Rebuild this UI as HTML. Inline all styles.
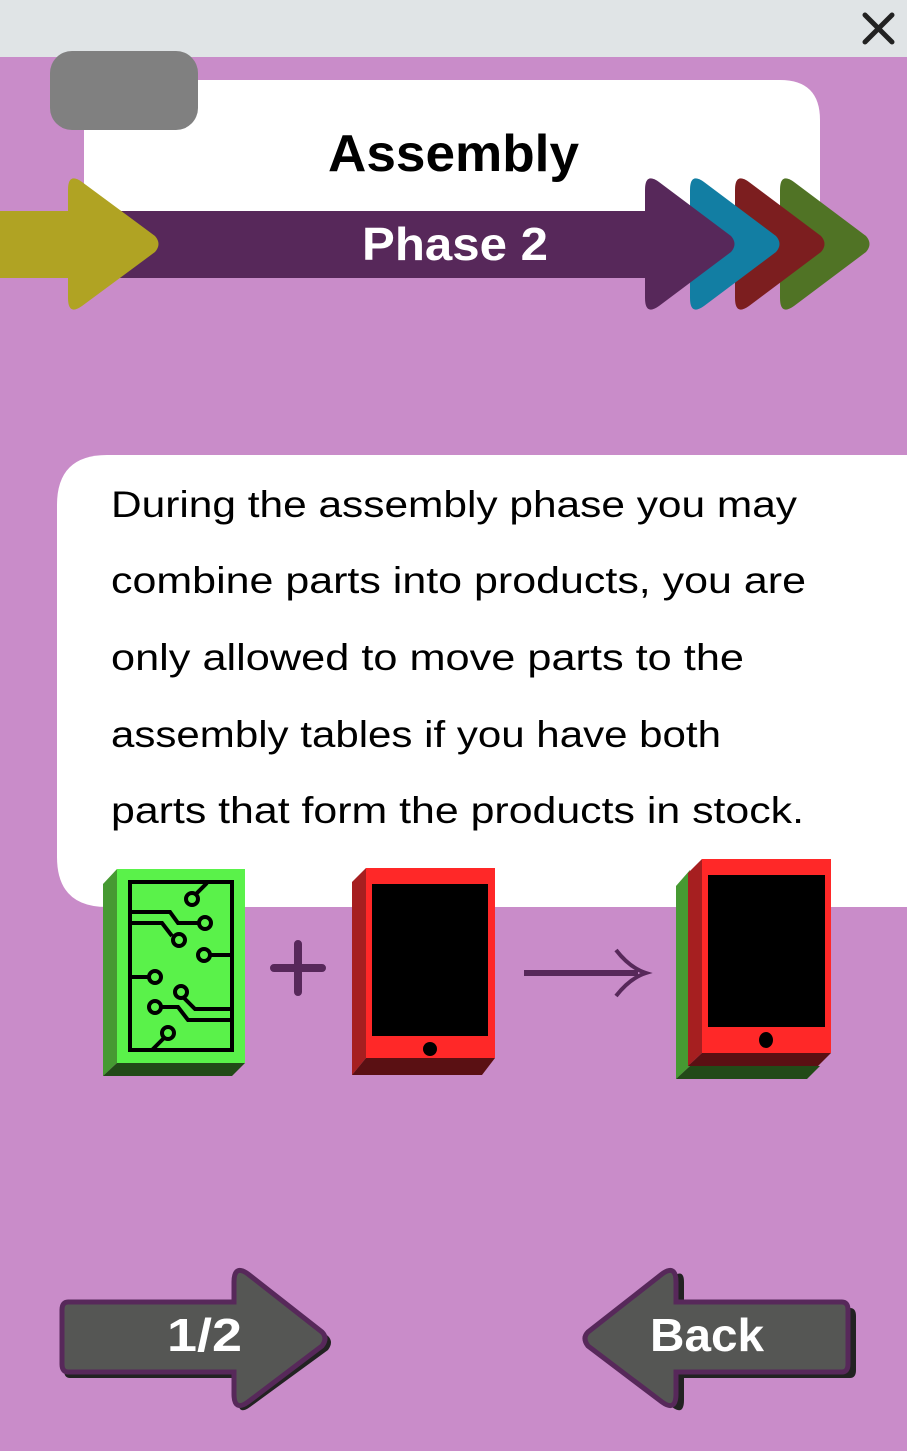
<!DOCTYPE html>
<html><head><meta charset="utf-8"><style>
html,body{margin:0;padding:0;width:907px;height:1451px;overflow:hidden;background:#c98cc9}
svg{display:block}
text{font-family:"Liberation Sans",sans-serif}
</style></head><body>
<svg width="907" height="1451" viewBox="0 0 907 1451" xmlns="http://www.w3.org/2000/svg">
<rect width="907" height="1451" fill="#c98cc9"/>
<rect width="907" height="57" fill="#e0e4e6"/>
<path d="M865 15 L892 42 M892 15 L865 42" stroke="#222" stroke-width="5" stroke-linecap="round"/>
<path d="M84 80 H780 Q820 80 820 120 V211 H84 Z" fill="#fff"/>
<rect x="50" y="51" width="148" height="79" rx="22" fill="#808080"/>
<text x="328" y="171" textLength="251" lengthAdjust="spacingAndGlyphs" font-size="52" font-weight="bold" fill="#000">Assembly</text>
<rect x="120" y="211" width="540" height="67" fill="#57285a"/>
<rect x="0" y="211" width="80" height="67" fill="#b0a323"/>
<path d="M68 190 Q68 172 82 182 L155 236 Q162 244 155 252 L82 306 Q68 316 68 298 Z" fill="#b0a323"/>
<path d="M780 190 Q780 172 794 182 L866 236 Q873 244 866 252 L794 306 Q780 316 780 298 Z" fill="#507325"/>
<path d="M735 190 Q735 172 749 182 L821 236 Q828 244 821 252 L749 306 Q735 316 735 298 Z" fill="#7c1e1f"/>
<path d="M690 190 Q690 172 704 182 L776 236 Q783 244 776 252 L704 306 Q690 316 690 298 Z" fill="#127ea3"/>
<path d="M645 190 Q645 172 659 182 L731 236 Q738 244 731 252 L659 306 Q645 316 645 298 Z" fill="#57285a"/>
<text x="362" y="260" textLength="186" lengthAdjust="spacingAndGlyphs" font-size="46" font-weight="bold" fill="#fff">Phase 2</text>
<path d="M907 455 H107 Q57 455 57 505 V857 Q57 907 107 907 H907 Z" fill="#fff"/>
<g font-size="37" fill="#000" lengthAdjust="spacingAndGlyphs">
<text x="111" y="517" textLength="686" lengthAdjust="spacingAndGlyphs">During the assembly phase you may</text>
<text x="111" y="593" textLength="695" lengthAdjust="spacingAndGlyphs">combine parts into products, you are</text>
<text x="111" y="670" textLength="633" lengthAdjust="spacingAndGlyphs">only allowed to move parts to the</text>
<text x="111" y="747" textLength="610" lengthAdjust="spacingAndGlyphs">assembly tables if you have both</text>
<text x="111" y="823" textLength="693" lengthAdjust="spacingAndGlyphs">parts that form the products in stock.</text>
</g>
<path d="M103 884 L117 869 V1063 L103 1076 Z" fill="#469a32"/>
<path d="M103 1076 L117 1063 H245 L232 1076 Z" fill="#224a18"/>
<rect x="117" y="869" width="128" height="194" fill="#5af24a"/>
<g fill="none" stroke="#000" stroke-width="4">
<rect x="130" y="882" width="102" height="168"/>
<circle cx="192" cy="899" r="6"/><circle cx="205" cy="923" r="6"/><circle cx="179" cy="940" r="6"/><circle cx="204" cy="955" r="6"/>
<circle cx="155" cy="977" r="6"/><circle cx="181" cy="992" r="6"/><circle cx="155" cy="1007" r="6"/><circle cx="168" cy="1033" r="6"/>
<path d="M196 894 L207 883"/>
<path d="M130 912 H170 L178 923 H199"/>
<path d="M130 923 H162 L172 936"/>
<path d="M210 955 H232"/>
<path d="M130 977 H149"/>
<path d="M184 998 L195 1009 H232"/>
<path d="M161 1007 H178 L188 1020 H232"/>
<path d="M164 1038 L152 1050"/>
</g>
<path d="M298 944 V992 M274 968 H322" stroke="#57285a" stroke-width="8" stroke-linecap="round"/>
<path d="M352 882 L366 868 V1058 L352 1075 Z" fill="#a61f20"/>
<path d="M352 1075 L366 1058 H495 L482 1075 Z" fill="#5a1013"/>
<rect x="366" y="868" width="129" height="190" fill="#ff2828"/>
<rect x="372" y="884" width="116" height="152" fill="#000"/>
<ellipse cx="430" cy="1049" rx="7" ry="7" fill="#000"/>
<path d="M524 973 H638" stroke="#57285a" stroke-width="6"/>
<path d="M616 950 Q630 968 646 973 Q630 978 616 996" stroke="#57285a" stroke-width="4" fill="none"/>
<path d="M676 886 L690 870 V1066 L676 1079 Z" fill="#469a32"/>
<path d="M676 1079 L690 1066 H820 L807 1079 Z" fill="#224a18"/>
<path d="M688 873 L702 859 V1053 L688 1066 Z" fill="#a61f20"/>
<path d="M688 1066 L702 1053 H831 L818 1066 Z" fill="#5a1013"/>
<rect x="702" y="859" width="129" height="194" fill="#ff2828"/>
<rect x="708" y="875" width="117" height="152" fill="#000"/>
<ellipse cx="766" cy="1040" rx="7" ry="8" fill="#000"/>
<g>
<path d="M70 1308 H238 V1282 Q238 1268 250 1277 L328 1336 Q334 1342 328 1350 L250 1407 Q238 1416 238 1400 V1378 H70 Q64 1378 64 1370 V1316 Q64 1308 70 1308 Z" fill="#222"/>
<path d="M68 1302 H234 V1282 Q234 1264 248 1274 L322 1332 Q328 1338 322 1346 L248 1402 Q234 1412 234 1394 V1372 H68 Q62 1372 62 1364 V1310 Q62 1302 68 1302 Z" fill="#555654" stroke="#57285a" stroke-width="5"/>
<text x="167" y="1351" textLength="75" lengthAdjust="spacingAndGlyphs" font-size="46" font-weight="bold" fill="#fff">1/2</text>
</g>
<g>
<path d="M850 1308 H684 V1282 Q684 1268 672 1277 L594 1336 Q588 1342 594 1350 L672 1407 Q684 1416 684 1400 V1378 H850 Q856 1378 856 1370 V1316 Q856 1308 850 1308 Z" fill="#222"/>
<path d="M842 1302 H676 V1282 Q676 1264 662 1274 L588 1332 Q582 1338 588 1346 L662 1402 Q676 1412 676 1394 V1372 H842 Q848 1372 848 1364 V1310 Q848 1302 842 1302 Z" fill="#555654" stroke="#57285a" stroke-width="5"/>
<text x="650" y="1351" textLength="114" lengthAdjust="spacingAndGlyphs" font-size="46" font-weight="bold" fill="#fff">Back</text>
</g>
</svg>
</body></html>
